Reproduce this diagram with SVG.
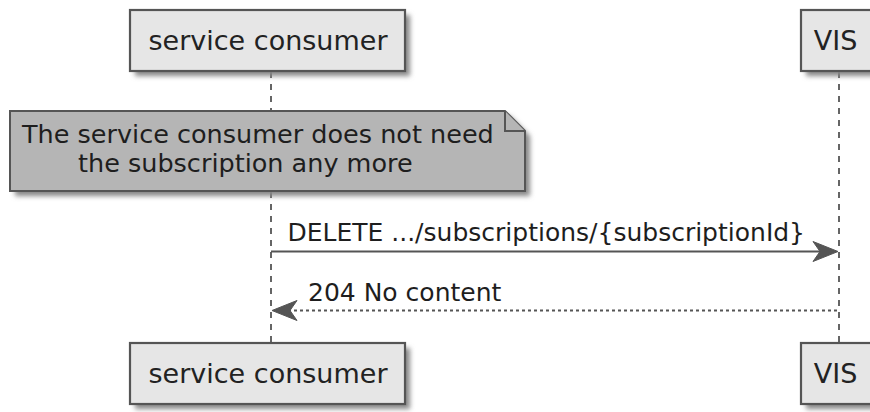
<svg xmlns="http://www.w3.org/2000/svg" width="870" height="412" viewBox="0 0 870 412">
<style>
.part{fill:#e6e6e6;stroke:#555555;stroke-width:2.2}
.note{fill:#b5b5b5;stroke:#555555;stroke-width:2}
.lt{font-family:"DejaVu Sans",sans-serif;font-size:27px;fill:#222222;text-anchor:middle}
.nt{font-family:"DejaVu Sans",sans-serif;font-size:25.5px;fill:#1e1e1e}
.mt{font-family:"DejaVu Sans",sans-serif;font-size:25px;fill:#1e1e1e}
.life{stroke:#555555;stroke-width:1.8;stroke-dasharray:6,6;fill:none}
.msg{stroke:#555555;stroke-width:2;fill:none}
.ret{stroke:#555555;stroke-width:2;stroke-dasharray:3,3;fill:none}
.head{fill:#555555;stroke:#555555;stroke-width:1}
</style>
<defs>
<filter id="sh" x="-10%" y="-20%" width="130%" height="150%">
<feGaussianBlur stdDeviation="2.5"/>
</filter>
</defs>
<rect width="870" height="412" fill="#ffffff"/>
<g id="lifelines">
<line class="life" x1="271" y1="72" x2="271" y2="343"/>
<line class="life" x1="839" y1="72" x2="839" y2="343"/>
</g>
<g id="participant-consumer-top">
<rect x="135" y="15" width="275" height="61" fill="#888888" filter="url(#sh)"/>
<rect class="part" x="130" y="10" width="275" height="61"/>
<text class="lt" x="268" y="50">service consumer</text>
</g>
<g id="participant-vis-top">
<rect x="806" y="15" width="75" height="61" fill="#888888" filter="url(#sh)"/>
<rect class="part" x="801" y="10" width="75" height="61"/>
<text class="lt" x="835.5" y="50">VIS</text>
</g>
<g id="note">
<path d="M15 116 H510 L530 136 V196 H15 Z" fill="#888888" filter="url(#sh)"/>
<path class="note" d="M10 111 H505 L525 131 V191 H10 Z"/>
<path class="note" d="M505 111 V131 H525" fill="none"/>
<text class="nt" x="22" y="143">The service consumer does not need</text>
<text class="nt" x="78" y="172">the subscription any more</text>
</g>
<g id="connectors">
<line class="msg" x1="271" y1="251.5" x2="834" y2="251.5"/>
<path class="head" d="M838 251.5 L813 241.5 L820 251.5 L813 261.5 Z"/>
<text class="mt" x="287.5" y="241">DELETE .../subscriptions/{subscriptionId}</text>
<line class="ret" x1="276" y1="310.5" x2="839" y2="310.5"/>
<path class="head" d="M272 310.5 L297 300.5 L290 310.5 L297 320.5 Z"/>
<text class="mt" x="308" y="301">204 No content</text>
</g>
<g id="participant-consumer-bottom">
<rect x="135" y="348" width="275" height="61" fill="#888888" filter="url(#sh)"/>
<rect class="part" x="130" y="343" width="275" height="61"/>
<text class="lt" x="268" y="383">service consumer</text>
</g>
<g id="participant-vis-bottom">
<rect x="806" y="348" width="75" height="61" fill="#888888" filter="url(#sh)"/>
<rect class="part" x="801" y="343" width="75" height="61"/>
<text class="lt" x="835.5" y="383">VIS</text>
</g>
</svg>
